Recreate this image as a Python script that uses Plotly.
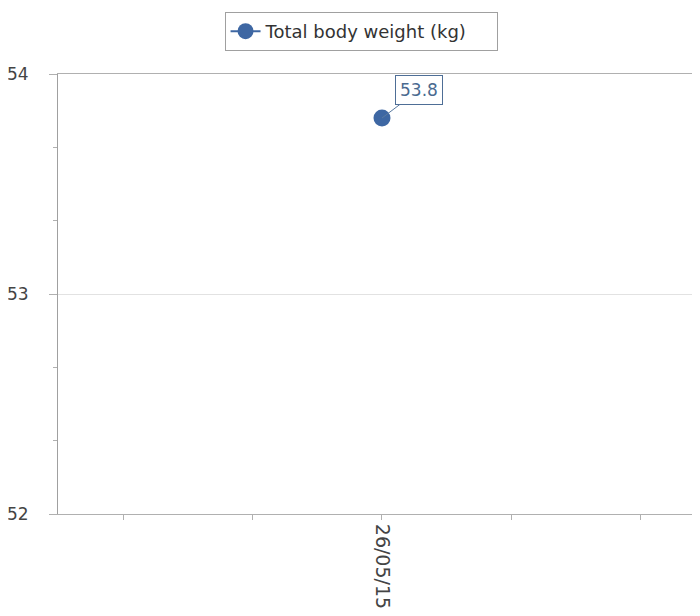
import plotly.graph_objects as go

dates = ["26/05/15"]
weights = [53.8]
x_pos = [0]
tick_vals = [-2, -1, 0, 1, 2]
tick_text = ["", "", "26/05/15", "", ""]
series_name = "Total body weight (kg)"

FONT = "DejaVu Sans"

fig = go.Figure()
fig.add_trace(go.Scatter(
    x=x_pos, y=weights, mode="lines+markers", name=series_name,
    marker=dict(size=17, color="#3e67a3"),
    line=dict(color="#3e67a3", width=2),
    showlegend=True,
))

fig.add_annotation(
    x=x_pos[0], y=weights[0], text=f"{weights[0]}",
    showarrow=True, arrowhead=0, arrowwidth=1, arrowcolor="#5a7aa0",
    ax=37, ay=-28, bordercolor="#4e6e96", borderwidth=1, borderpad=4,
    bgcolor="white", font=dict(family=FONT, size=17, color="#4a6a90"),
)

fig.update_layout(
    width=684, height=600,
    margin=dict(l=50, r=0, t=66, b=94),
    paper_bgcolor="white", plot_bgcolor="white",
    font=dict(family=FONT, size=17, color="#444444"),
    legend=dict(
        orientation="h", x=0.478, xanchor="center", y=1.141, yanchor="top",
        bordercolor="#a0a0a0", borderwidth=1, bgcolor="white",
        font=dict(family=FONT, size=18, color="#333333"),
        itemwidth=30, entrywidth=226,
    ),
    xaxis=dict(
        range=[-2.502, 2.394], tickvals=tick_vals, ticktext=tick_text,
        tickangle=90, ticks="outside", ticklen=5, tickcolor="#b0b0b0",
        showgrid=False, zeroline=False, showline=True, mirror=True,
        linecolor="#b0b0b0", linewidth=1,
        tickfont=dict(family=FONT, size=19, color="#444444"),
    ),
    yaxis=dict(
        range=[52, 54], dtick=1, ticks="outside", ticklen=8, tickcolor="#b0b0b0",
        showgrid=True, gridcolor="#e2e2e2", zeroline=False,
        showline=True, linecolor="#a0a0a0", linewidth=1,
        ticklabelstandoff=17,
        tickfont=dict(family=FONT, size=17, color="#444444"),
        minor=dict(dtick=1 / 3, ticks="outside", ticklen=4, tickcolor="#b0b0b0", showgrid=False),
    ),
)

fig.write_html("out.html")
